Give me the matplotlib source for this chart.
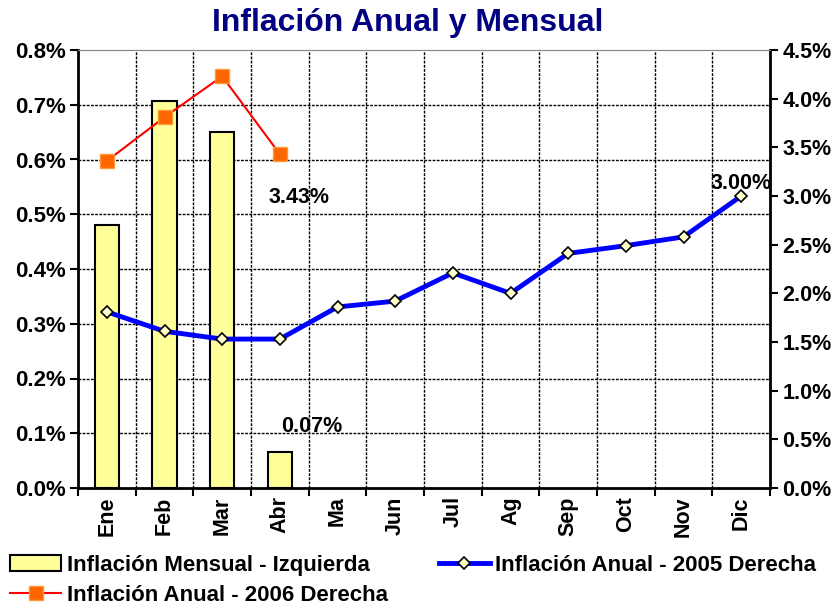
import matplotlib
matplotlib.use("Agg")
import matplotlib.pyplot as plt
from matplotlib.ticker import FixedLocator, FuncFormatter
import numpy as np

plt.rcParams["font.family"] = ["Liberation Sans", "DejaVu Sans"]
plt.rcParams["font.weight"] = "bold"

meses = ["Ene", "Feb", "Mar", "Abr", "Ma", "Jun", "Jul", "Ag", "Sep", "Oct", "Nov", "Dic"]
mensual = [0.48, 0.706, 0.651, 0.066]              # % izquierda
anual_2005 = [1.81, 1.61, 1.53, 1.53, 1.86, 1.92, 2.21, 2.00, 2.41, 2.49, 2.58, 3.00]  # % derecha
anual_2006 = [3.36, 3.81, 4.23, 3.43]              # % derecha

x = np.arange(len(meses))

fig = plt.figure(figsize=(8.38, 6.10), dpi=100)
ax = fig.add_axes([78 / 838, 1 - 488 / 610, (770 - 78) / 838, (488 - 50) / 610])
ax2 = ax.twinx()

bars = ax.bar(x[:len(mensual)], mensual, width=0.42, color="#ffff99",
              edgecolor="black", linewidth=1.5, zorder=3,
              label="Inflación Mensual - Izquierda")

ax.set_xlim(-0.5, len(meses) - 0.5)
ax.set_ylim(0, 0.8)
ax2.set_ylim(0, 4.5)

# grid
for v in np.arange(0.1, 0.8, 0.1):
    ax.axhline(v, color="black", lw=1, ls=(0, (2, 1)), zorder=1)
for b in x[:-1] + 0.5:
    ax.axvline(b, color="black", lw=1, ls=(0, (2, 1)), zorder=1)

pct = FuncFormatter(lambda v, p: f"{v:.1f}%")
ax.set_yticks(np.arange(0, 0.81, 0.1))
ax.yaxis.set_major_formatter(pct)
ax2.set_yticks(np.arange(0, 4.51, 0.5))
ax2.yaxis.set_major_formatter(pct)

ax.set_xticks(x)
ax.set_xticklabels(meses, rotation=90, fontsize=15.5, fontweight="bold")
ax.xaxis.set_minor_locator(FixedLocator(np.arange(-0.5, len(meses), 1.0)))
ax.tick_params(axis="x", which="major", length=0, pad=6)
ax.tick_params(axis="x", which="minor", length=6, width=1.5, direction="out")
ax.tick_params(axis="y", length=6, width=1.5, direction="out", labelsize=16, pad=3)
ax2.tick_params(axis="y", length=6, width=1.5, direction="out", labelsize=15.5, pad=3)
for lab in ax.get_yticklabels() + ax2.get_yticklabels():
    lab.set_fontweight("bold")

for s in ["left", "bottom"]:
    ax.spines[s].set_linewidth(2)
ax2.spines["right"].set_linewidth(2)
ax2.spines["left"].set_visible(False)
ax2.spines["bottom"].set_visible(False)
ax.spines["top"].set_color("#888888")
ax2.spines["top"].set_color("#888888")
ax.spines["right"].set_visible(False)

l05, = ax2.plot(x, anual_2005, color="#0000ff", lw=3.5, marker="D", ms=6,
                mfc="#ffffcc", mec="black", mew=1.2, zorder=4,
                label="Inflación Anual - 2005 Derecha")
l06, = ax2.plot(x[:len(anual_2006)], anual_2006, color="#ff0000", lw=1.5, marker="s",
                ms=10, mfc="#ff6600", mec="#ff9933", mew=1, zorder=4,
                label="Inflación Anual - 2006 Derecha")

ax2.annotate(f"{anual_2006[-1]:.2f}%", (x[3], anual_2006[-1]), xytext=(14, -31),
             textcoords="offset points", ha="center", va="center",
             fontsize=15.5, fontweight="bold")
ax.annotate(f"{mensual[-1]:.2f}%", (x[3], mensual[-1]), xytext=(23, 18),
            textcoords="offset points", ha="center", va="center",
            fontsize=15.5, fontweight="bold")
ax2.annotate(f"{anual_2005[-1]:.2f}%", (x[-1], anual_2005[-1]), xytext=(0, 9),
             textcoords="offset points", ha="center", va="center",
             fontsize=15.5, fontweight="bold", zorder=6)

fig.text(408 / 838, 1 - 23 / 610, "Inflación Anual y Mensual", ha="center", va="center",
         fontsize=23, fontweight="bold", color="#000080")

fig.legend(handles=[bars, l06, l05], loc="upper left",
           bbox_to_anchor=(10 / 838, 1 - 555 / 610),
           ncol=2, frameon=False, handlelength=2.3,
           columnspacing=2.3, labelspacing=0.4, handletextpad=0.25,
           borderpad=0, borderaxespad=0,
           prop={"weight": "bold", "size": 16})

fig.savefig("out.png", dpi=100)
